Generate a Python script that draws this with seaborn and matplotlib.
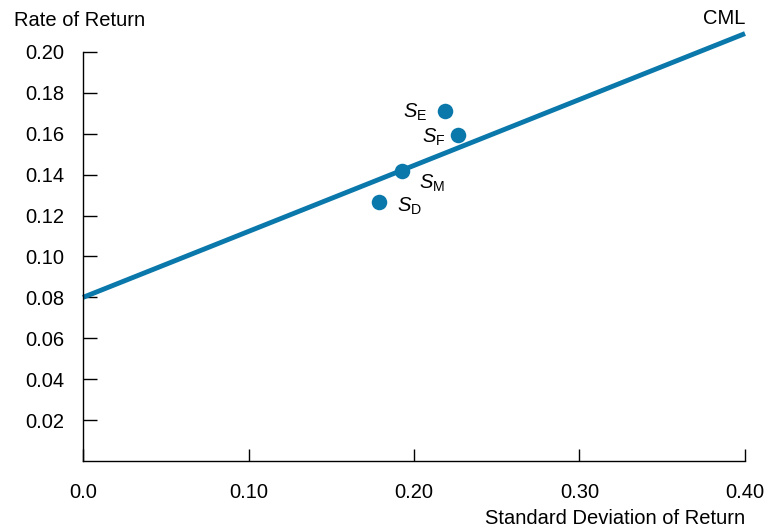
import matplotlib
matplotlib.use("Agg")
import matplotlib.pyplot as plt
import seaborn as sns
import pandas as pd

# capital market line endpoints (std dev, return)
cml_sd = [0.0, 0.40]
cml_ret = [0.080, 0.209]

# portfolios
port_names = ["E", "F", "M", "D"]
port_sd = [0.219, 0.2265, 0.193, 0.179]
port_ret = [0.171, 0.1595, 0.142, 0.1265]

x_ticks = [0.0, 0.10, 0.20, 0.30, 0.40]
x_ticklabels = ["0.0", "0.10", "0.20", "0.30", "0.40"]
y_ticks = [0.02, 0.04, 0.06, 0.08, 0.10, 0.12, 0.14, 0.16, 0.18, 0.20]

# label offsets in points (dx, dy, ha)
label_pos = {"E": (-13, -1, "right"), "F": (-9, -2, "right"),
             "M": (12, -9, "left"), "D": (13, -3, "left")}

blue = "#0a78aa"

sns.set_style("ticks")
plt.rcParams["font.family"] = ["Liberation Sans", "DejaVu Sans"]
plt.rcParams["mathtext.fontset"] = "custom"
plt.rcParams["mathtext.rm"] = "Liberation Sans"
plt.rcParams["mathtext.it"] = "Liberation Sans:italic"
plt.rcParams["text.color"] = "black"
plt.rcParams["xtick.color"] = "black"
plt.rcParams["ytick.color"] = "black"

fs = 14.5
fig = plt.figure(figsize=(7.71, 5.31), dpi=100)
ax = fig.add_axes([83 / 771, 70 / 531, 662 / 771, (461 - 31.5) / 531])

cml = pd.DataFrame({"sd": cml_sd, "ret": cml_ret})
sns.lineplot(data=cml, x="sd", y="ret", color=blue, linewidth=3.5, ax=ax,
             clip_on=False, solid_capstyle="butt")

pts = pd.DataFrame({"name": port_names, "sd": port_sd, "ret": port_ret})
sns.scatterplot(data=pts, x="sd", y="ret", color=blue, s=125, linewidth=0,
                ax=ax, zorder=5, clip_on=False)

for n, x, y in zip(port_names, port_sd, port_ret):
    dx, dy, ha = label_pos[n]
    ax.annotate("$S_{\\mathrm{%s}}$" % n, (x, y), xytext=(dx, dy),
                textcoords="offset points", ha=ha, va="center", fontsize=fs)

ax.set_xlim(0, 0.40)
ax.set_ylim(0, 0.21)
ax.set_xticks(x_ticks)
ax.set_xticklabels(x_ticklabels)
ax.set_yticks(y_ticks)
ax.set_yticklabels(["%.2f" % v for v in y_ticks])
ax.tick_params(axis="y", direction="in", length=10, width=1, pad=13.5,
               labelsize=fs, colors="black")
ax.tick_params(axis="x", direction="in", length=8.5, width=1, pad=16,
               labelsize=fs, colors="black")

sns.despine(ax=ax)
ax.spines["left"].set_bounds(0, 0.20)
for s in ["left", "bottom"]:
    ax.spines[s].set_linewidth(1)
    ax.spines[s].set_color("black")

ax.set_xlabel("")
ax.set_ylabel("")
fig.text(14 / 771, 1 - 20 / 531, "Rate of Return", ha="left", va="center", fontsize=fs)
fig.text(745 / 771, 1 - 519 / 531, "Standard Deviation of Return", ha="right",
         va="center", fontsize=fs)
fig.text(745 / 771, 1 - 19 / 531, "CML", ha="right", va="center", fontsize=fs)

fig.savefig("out.png", dpi=100)
